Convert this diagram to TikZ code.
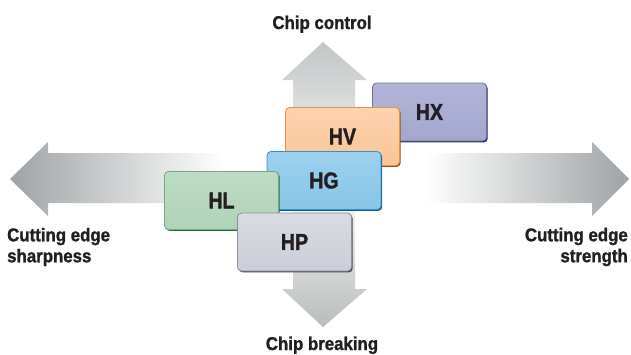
\documentclass[tikz,border=0pt]{standalone}
\usepackage{fontspec}
\newfontfamily\labfont{Liberation Sans}[FakeStretch=0.91, FakeBold=1.3]
\newfontfamily\boxfont{Liberation Sans}[FakeStretch=0.85, FakeBold=1.5]
\usetikzlibrary{shadows}
\definecolor{txt}{HTML}{231F20}
\definecolor{arrdark}{HTML}{9FA3A5}
\definecolor{arrv}{HTML}{C3C6C7}
\definecolor{hxfill}{HTML}{A3A7CD}\definecolor{hxtop}{HTML}{B2B5D8}\definecolor{hxline}{HTML}{6D71A8}\definecolor{hxsh}{HTML}{23265E}
\definecolor{hvfill}{HTML}{FAC597}\definecolor{hvtop}{HTML}{FDD3AE}\definecolor{hvline}{HTML}{E8914A}\definecolor{hvsh}{HTML}{9A531B}
\definecolor{hgfill}{HTML}{89C5E8}\definecolor{hgtop}{HTML}{9CD0EE}\definecolor{hgline}{HTML}{2E92CC}\definecolor{hgsh}{HTML}{1A5A82}
\definecolor{hlfill}{HTML}{AED3B6}\definecolor{hltop}{HTML}{BEDCC4}\definecolor{hlline}{HTML}{73A881}\definecolor{hlsh}{HTML}{2B6A3D}
\definecolor{hpfill}{HTML}{CCCFD8}\definecolor{hptop}{HTML}{D9DBE2}\definecolor{hpline}{HTML}{8C8F99}\definecolor{hpsh}{HTML}{454851}
\begin{document}
\begin{tikzpicture}[x=1pt,y=-1pt,
  lab/.style={font=\labfont\bfseries\fontsize{18.5}{21}\selectfont, text=txt, inner sep=0pt},
  box/.style={rounded corners=4pt, minimum width=114pt, minimum height=58pt, inner sep=0pt,
     line width=0.8pt, font=\boxfont\bfseries\fontsize{23}{23}\selectfont, text=txt},
  mkbox/.style={box, draw=#1line, top color=#1top, bottom color=#1fill,
     general shadow={shadow xshift=1.2pt, shadow yshift=-1.4pt, fill=#1sh}}
]
\useasboundingbox (0,0) rectangle (631,354);
\fill[white] (0,0) rectangle (631,354);
% horizontal arrows
\shade[left color=arrdark, right color=white]
  (10,179) -- (48,142) -- (48,153) -- (225,153) -- (225,203) -- (48,203) -- (48,216) -- cycle;
\shade[left color=white, right color=arrdark]
  (629,179) -- (592,142) -- (592,153) -- (425,153) -- (425,203) -- (592,203) -- (592,216) -- cycle;
% vertical arrows
\shade[top color=arrv, bottom color=white!92!arrv]
  (323,42) -- (367,80) -- (355,80) -- (355,190) -- (293,190) -- (293,80) -- (282,80) -- cycle;
\shade[top color=white!90!arrv, bottom color=arrv!95!black]
  (323,327) -- (367,289) -- (355,289) -- (355,190) -- (293,190) -- (293,289) -- (282,289) -- cycle;
% boxes
\node[mkbox=hx] (hx) at (429.5,112) {HX};
\node[mkbox=hv] (hv) at (342.5,136.5) {HV};
\node[mkbox=hg] (hg) at (324,180.5) {HG};
\node[mkbox=hl] (hl) at (221.5,200.5) {HL};
\node[mkbox=hp] (hp) at (294.5,242) {HP};
% labels
\node[lab, anchor=base] (top) at (322,29) {Chip control};
\node[lab, anchor=base] (bot) at (322,350) {Chip breaking};
\node[lab, anchor=west, align=left] (left) at (7,247) {Cutting edge\\sharpness};
\node[lab, anchor=east, align=right] (right) at (628,247) {Cutting edge\\strength};
\end{tikzpicture}
\end{document}
